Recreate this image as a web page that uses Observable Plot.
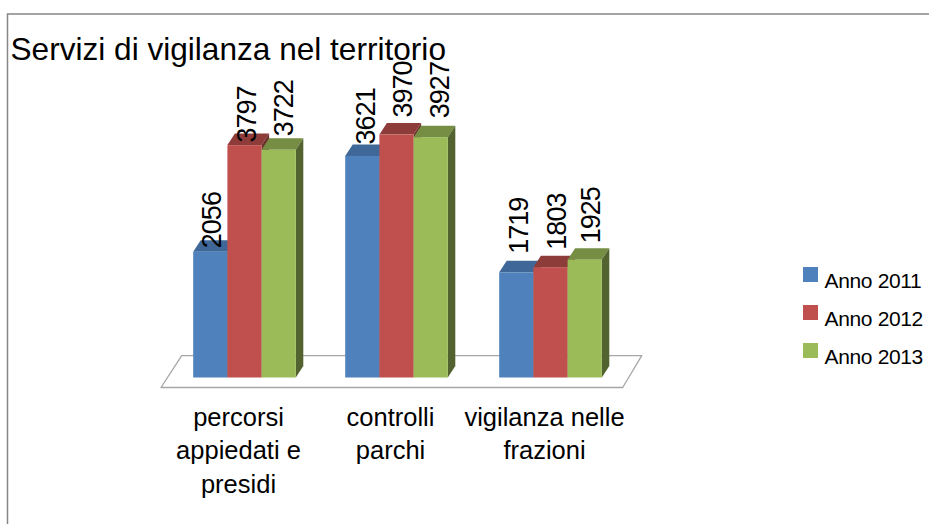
<!DOCTYPE html>
<html><head><meta charset="utf-8">
<script src="https://cdn.jsdelivr.net/npm/d3@7"></script>
<script src="https://cdn.jsdelivr.net/npm/@observablehq/plot@0.6"></script>
<style>html,body{margin:0;padding:0;background:#fff}svg{display:block}
svg g[font-size="27"]{letter-spacing:-1px}
svg g[font-size="21"]{letter-spacing:-.35px}
</style>
</head><body><div id="chart"></div>
<script>
const categories = [["percorsi","appiedati e","presidi"],["controlli","parchi"],["vigilanza nelle","frazioni"]];
const seriesNames = ["Anno 2011","Anno 2012","Anno 2013"];
const anno2011 = [2056,3621,1719];
const anno2012 = [3797,3970,1803];
const anno2013 = [3722,3927,1925];
const seriesValues = [anno2011,anno2012,anno2013];
const frontColors = ["#4f81bd","#c0504d","#9bbb59"];
const topColors = ["#3f6797","#8e3c3a","#768e44"];
const sideColors = ["#2f4d71","#6f2f2d","#53632f"];

const W=929,H=524,baseY=377.5,pxPerUnit=0.0612,firstX=244.5,step=153;
const groupPos=[0,0.9935,2];
const barW=34.2/step, depthX=7.5/step, depthY=11.5/pxPerUnit;
const font="'Liberation Sans',Arial,sans-serif";
const px=x=>(x-firstX)/step, py=y=>(baseY-y)/pxPerUnit;
const bars=[];
seriesValues.forEach((vals,s)=>vals.forEach((v,g)=>{
  const x1=groupPos[g]+(s-1.5)*barW, x2=x1+barW;
  bars.push({g,s,v,x1,x2});
}));
const marks=[];
marks.push(Plot.frame({stroke:"#868686",strokeWidth:1.5,insetLeft:7,insetTop:13.5,insetRight:-4,insetBottom:-4}));
const floorRows=[{y:py(387.5),a:px(161),b:px(622.7)},{y:py(355.7),a:px(181.7),b:px(641.7)}];
marks.push(Plot.areaX(floorRows,{y:"y",x1:"a",x2:"b",fill:"#fff",stroke:"#a6a6a6",strokeWidth:1.3}));
for(const b of bars){
  marks.push(Plot.areaX([{y:b.v,a:b.x1,c:b.x2},{y:b.v+depthY,a:b.x1+depthX,c:b.x2+depthX}],{y:"y",x1:"a",x2:"c",fill:topColors[b.s]}));
  marks.push(Plot.areaY([{x:b.x2,lo:0,hi:b.v},{x:b.x2+depthX,lo:depthY,hi:b.v+depthY}],{x:"x",y1:"lo",y2:"hi",fill:sideColors[b.s]}));
  marks.push(Plot.rect([b],{x1:"x1",x2:"x2",y1:0,y2:"v",fill:frontColors[b.s]}));
}
const labelLift=[[4,12,19],[3,17.5,18],[14,19.5,17]];
const labelShift=[[2,3.5,3],[2.5,6.5,6.5],[5,9,6]];
marks.push(Plot.text(bars,{
  x:b=>(b.x1+b.x2)/2+labelShift[b.s][b.g]/step,
  y:b=>b.v+labelLift[b.s][b.g]/pxPerUnit,
  text:b=>String(b.v),rotate:-90,textAnchor:"start",lineAnchor:"middle",fontSize:27,fontFamily:font,fill:"#000"}));
marks.push(Plot.text(["Servizi di vigilanza nel territorio"],{frameAnchor:"top-left",dx:10,dy:37,fontSize:31.6,fontFamily:font,fill:"#000",lineAnchor:"top"}));
marks.push(Plot.text(categories,{x:(d,i)=>groupPos[i]-6.5/step,y:py(401),text:d=>d.join("\n"),lineAnchor:"top",fontSize:25.5,lineHeight:1.33,fontFamily:font,fill:"#000"}));
seriesNames.forEach((n,i)=>{
  marks.push(Plot.rect([n],{x1:px(803),x2:px(818),y1:py(267+38*i),y2:py(282+38*i),fill:frontColors[i]}));
});
marks.push(Plot.text(seriesNames,{x:px(824),y:(d,i)=>py(280.3+38*i),textAnchor:"start",fontSize:21,fontFamily:font,fill:"#000"}));
const chart=Plot.plot({width:W,height:H,margin:0,
  x:{type:"linear",domain:[px(0),px(W)],range:[0,W],axis:null},
  y:{type:"linear",domain:[py(H),py(0)],range:[H,0],axis:null},
  marks});
document.getElementById("chart").append(chart);
</script></body></html>
